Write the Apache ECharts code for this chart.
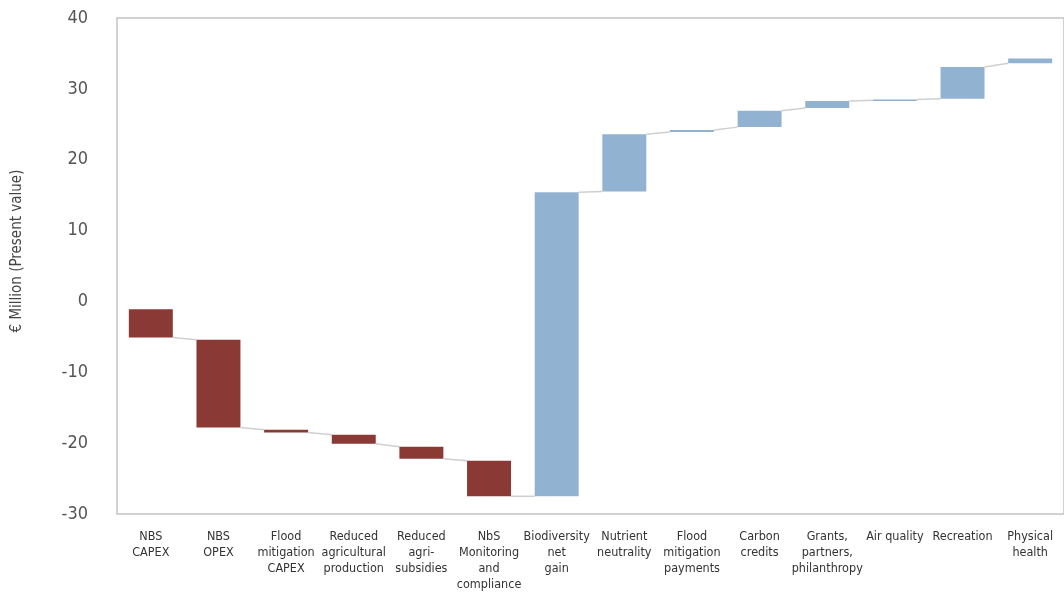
<!DOCTYPE html>
<html>
<head>
<meta charset="utf-8">
<script src="https://cdn.jsdelivr.net/npm/echarts@6/dist/echarts.min.js"></script>
<style>
  html, body { margin: 0; padding: 0; background: #fff; }
  #chart { width: 1064px; height: 599px; }
</style>
</head>
<body>
<div id="chart"></div>
<script>
const categories = [
  'NBS\nCAPEX', 'NBS\nOPEX', 'Flood\nmitigation\nCAPEX', 'Reduced\nagricultural\nproduction',
  'Reduced\nagri-\nsubsidies', 'NbS\nMonitoring\nand\ncompliance', 'Biodiversity\nnet\ngain',
  'Nutrient\nneutrality', 'Flood\nmitigation\npayments', 'Carbon\ncredits',
  'Grants,\npartners,\nphilanthropy', 'Air quality', 'Recreation', 'Physical\nhealth'
];
// where each bar starts and ends (€ million)
const barStart = [-1.1, -5.4, -18.1, -18.8, -20.5, -22.5, -27.5, 15.5, 23.9, 24.6, 27.3, 28.4, 28.6, 33.6];
const barEnd = [-5.1, -17.8, -18.5, -20.1, -22.2, -27.5, 15.4, 23.6, 24.2, 26.9, 28.3, 28.5, 33.1, 34.3];

const red = '#8b3934';
const blue = '#92b2d2';
const font = "'DejaVu Sans Condensed', 'Liberation Sans Narrow', sans-serif";

const data = categories.map((c, i) => [
  i, barStart[i], barEnd[i], i < categories.length - 1 ? barStart[i + 1] : null
]);

const chart = echarts.init(document.getElementById('chart'));

const option = {
  animation: false,
  grid: {
    left: 117, right: -2, top: 18, bottom: 85,
    show: true, borderColor: '#c4c4c4', borderWidth: 1.5
  },
  xAxis: {
    type: 'category',
    data: categories,
    axisLine: { show: false },
    axisTick: { show: false },
    axisLabel: {
      interval: 0, margin: 15, fontFamily: font, fontSize: 12.5,
      lineHeight: 16, color: '#333', verticalAlign: 'top'
    }
  },
  yAxis: {
    type: 'value',
    min: -30, max: 40, interval: 10,
    name: '€ Million (Present value)',
    nameLocation: 'middle',
    nameGap: 92,
    nameTextStyle: { fontFamily: font, fontSize: 15, color: '#444', padding: [0, 0, 0, 30] },
    axisLine: { show: false },
    axisTick: { show: false },
    splitLine: { show: false },
    axisLabel: { margin: 29, fontFamily: font, fontSize: 18, color: '#555' }
  },
  series: [{
    type: 'custom',
    data: data,
    encode: { x: 0, y: [1, 2] },
    renderItem: (params, api) => {
      const i = api.value(0);
      const s = api.value(1);
      const e = api.value(2);
      const next = api.value(3);
      const band = api.size([1, 0])[0];
      const w = band * 0.65;
      const p1 = api.coord([i, s]);
      const p2 = api.coord([i, e]);
      const x0 = p1[0] - w / 2;
      const children = [{
        type: 'rect',
        shape: { x: x0, y: Math.min(p1[1], p2[1]), width: w, height: Math.max(Math.abs(p2[1] - p1[1]), 1.5) },
        style: { fill: e < s ? red : blue }
      }];
      if (next != null && !isNaN(next)) {
        const pn = api.coord([i + 1, next]);
        children.push({
          type: 'line',
          shape: { x1: x0 + w, y1: p2[1], x2: pn[0] - w / 2, y2: pn[1] },
          style: { stroke: '#cfcfcf', lineWidth: 1.5 }
        });
      }
      return { type: 'group', children: children };
    }
  }]
};

chart.setOption(option);
</script>
</body>
</html>
